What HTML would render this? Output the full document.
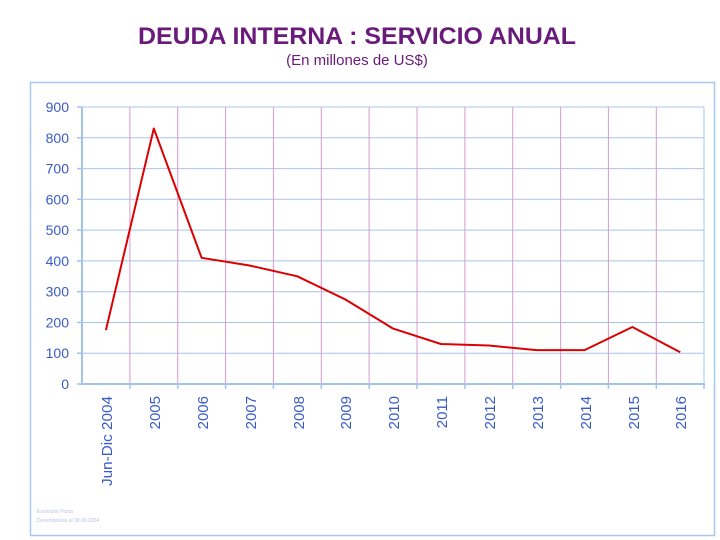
<!DOCTYPE html>
<html><head><meta charset="utf-8"><style>
body{margin:0;background:#fff;width:720px;height:540px;overflow:hidden}
svg{display:block}
</style></head><body>
<svg width="720" height="540" xmlns="http://www.w3.org/2000/svg" font-family="Liberation Sans, sans-serif">
<text x="357" y="44" text-anchor="middle" font-size="24" font-weight="bold" fill="#6a1a7a" textLength="438" lengthAdjust="spacingAndGlyphs">DEUDA INTERNA : SERVICIO ANUAL</text>
<text x="357" y="65" text-anchor="middle" font-size="15" fill="#6a1a7a">(En millones de US$)</text>
<rect x="30.5" y="82.5" width="684" height="453" fill="none" stroke="#a8c8ec" stroke-width="1.5"/>
<g stroke="#a8c4e8" stroke-width="1">
<line x1="82" x2="704" y1="107" y2="107"/><line x1="82" x2="704" y1="137.8" y2="137.8"/>
<line x1="82" x2="704" y1="168.6" y2="168.6"/><line x1="82" x2="704" y1="199.3" y2="199.3"/>
<line x1="82" x2="704" y1="230.1" y2="230.1"/><line x1="82" x2="704" y1="260.9" y2="260.9"/>
<line x1="82" x2="704" y1="291.7" y2="291.7"/><line x1="82" x2="704" y1="322.5" y2="322.5"/>
<line x1="82" x2="704" y1="353.2" y2="353.2"/>
<line x1="704" x2="704" y1="107" y2="384"/>
</g>
<g stroke="#d89ad0" stroke-width="1">
<line x1="129.9" x2="129.9" y1="107" y2="384"/><line x1="177.7" x2="177.7" y1="107" y2="384"/>
<line x1="225.6" x2="225.6" y1="107" y2="384"/><line x1="273.4" x2="273.4" y1="107" y2="384"/>
<line x1="321.3" x2="321.3" y1="107" y2="384"/><line x1="369.1" x2="369.1" y1="107" y2="384"/>
<line x1="417" x2="417" y1="107" y2="384"/><line x1="464.9" x2="464.9" y1="107" y2="384"/>
<line x1="512.7" x2="512.7" y1="107" y2="384"/><line x1="560.6" x2="560.6" y1="107" y2="384"/>
<line x1="608.4" x2="608.4" y1="107" y2="384"/><line x1="656.3" x2="656.3" y1="107" y2="384"/>
</g>
<g stroke="#a0c4ec" stroke-width="2">
<line x1="82" x2="82" y1="107" y2="385"/><line x1="81" x2="705" y1="384" y2="384"/>
</g>
<g stroke="#a0c4ec" stroke-width="1.5">
<line x1="77" x2="82" y1="107" y2="107"/><line x1="77" x2="82" y1="137.8" y2="137.8"/><line x1="77" x2="82" y1="168.6" y2="168.6"/><line x1="77" x2="82" y1="199.3" y2="199.3"/><line x1="77" x2="82" y1="230.1" y2="230.1"/><line x1="77" x2="82" y1="260.9" y2="260.9"/><line x1="77" x2="82" y1="291.7" y2="291.7"/><line x1="77" x2="82" y1="322.5" y2="322.5"/><line x1="77" x2="82" y1="353.2" y2="353.2"/><line x1="77" x2="82" y1="384" y2="384"/>
<line x1="129.9" x2="129.9" y1="384" y2="389"/><line x1="177.7" x2="177.7" y1="384" y2="389"/><line x1="225.6" x2="225.6" y1="384" y2="389"/><line x1="273.4" x2="273.4" y1="384" y2="389"/><line x1="321.3" x2="321.3" y1="384" y2="389"/><line x1="369.1" x2="369.1" y1="384" y2="389"/><line x1="417" x2="417" y1="384" y2="389"/><line x1="464.9" x2="464.9" y1="384" y2="389"/><line x1="512.7" x2="512.7" y1="384" y2="389"/><line x1="560.6" x2="560.6" y1="384" y2="389"/><line x1="608.4" x2="608.4" y1="384" y2="389"/><line x1="656.3" x2="656.3" y1="384" y2="389"/><line x1="704" x2="704" y1="384" y2="389"/>
</g>
<g font-size="14" fill="#3a5ac8" text-anchor="end">
<text x="69" y="112">900</text><text x="69" y="142.8">800</text><text x="69" y="173.6">700</text><text x="69" y="204.3">600</text><text x="69" y="235.1">500</text><text x="69" y="265.9">400</text><text x="69" y="296.7">300</text><text x="69" y="327.5">200</text><text x="69" y="358.2">100</text><text x="69" y="389">0</text>
</g>
<g font-size="15" fill="#3a5ac8" text-anchor="end">
<text transform="translate(112,396) rotate(-90)" textLength="90" lengthAdjust="spacingAndGlyphs">Jun-Dic 2004</text>
<text transform="translate(160,396) rotate(-90)">2005</text>
<text transform="translate(208,396) rotate(-90)">2006</text>
<text transform="translate(256,396) rotate(-90)">2007</text>
<text transform="translate(304,396) rotate(-90)">2008</text>
<text transform="translate(351,396) rotate(-90)">2009</text>
<text transform="translate(399,396) rotate(-90)">2010</text>
<text transform="translate(447,396) rotate(-90)">2011</text>
<text transform="translate(495,396) rotate(-90)">2012</text>
<text transform="translate(543,396) rotate(-90)">2013</text>
<text transform="translate(591,396) rotate(-90)">2014</text>
<text transform="translate(639,396) rotate(-90)">2015</text>
<text transform="translate(686,396) rotate(-90)">2016</text>
</g>
<polyline fill="none" stroke="#dd0000" stroke-width="2" stroke-linejoin="round" points="105.9,330.1 153.8,128.5 201.6,257.8 249.5,265.5 297.3,276.3 345.2,299.4 393.1,328.6 440.9,344 488.8,345.5 536.6,350.1 584.5,350.1 632.4,327 680.2,352.3"/>
<text x="37" y="513" font-size="5" fill="#b8c0e8">Evolución Posta</text>
<text x="37" y="522" font-size="5" fill="#b8c0e8">Desembolsos al 30.06.2004</text>
</svg>
</body></html>
